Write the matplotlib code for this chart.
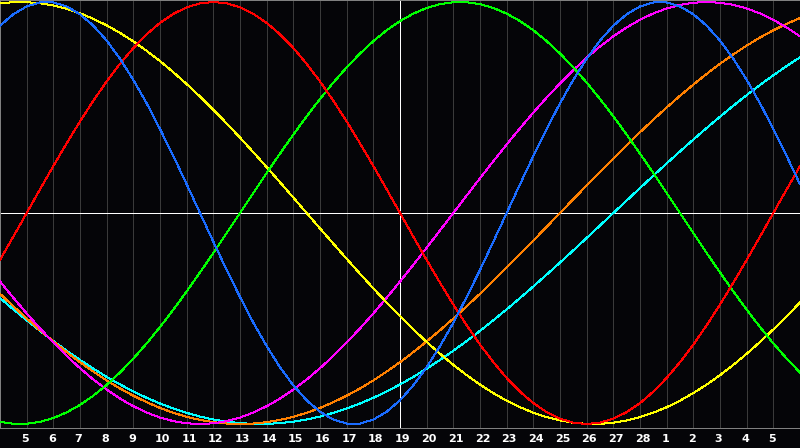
import matplotlib
matplotlib.use("Agg")
import matplotlib.pyplot as plt

day_labels = [str(d) for d in range(5, 29)] + [str(d) for d in range(1, 6)]
today_index = 14  # label "19"

# sample positions: every half day across the 30-day window
days = [i * 0.5 for i in range(61)]

physical = [0.888, 0.942, 0.979, 0.998, 0.998, 0.979, 0.942, 0.888, 0.817, 0.731,
            0.631, 0.520, 0.398, 0.270, 0.136, 0.000, -0.136, -0.270, -0.398, -0.520,
            -0.631, -0.731, -0.817, -0.888, -0.942, -0.979, -0.998, -0.998, -0.979, -0.942,
            -0.888, -0.817, -0.731, -0.631, -0.520, -0.398, -0.270, -0.136, 0.000, 0.136,
            0.270, 0.398, 0.520, 0.631, 0.731, 0.817, 0.888, 0.942, 0.979, 0.998,
            0.998, 0.979, 0.942, 0.888, 0.817, 0.731, 0.631, 0.520, 0.398, 0.270, 0.136]
emotional = [-0.2225, -0.1120, 0.0, 0.1120, 0.2225, 0.3303, 0.4339, 0.5321, 0.6235, 0.7071,
             0.7818, 0.8467, 0.9010, 0.9439, 0.9749, 0.9937, 1.0, 0.9937, 0.9749, 0.9439,
             0.9010, 0.8467, 0.7818, 0.7071, 0.6235, 0.5321, 0.4339, 0.3303, 0.2225, 0.1120,
             0.0, -0.1120, -0.2225, -0.3303, -0.4339, -0.5321, -0.6235, -0.7071, -0.7818, -0.8467,
             -0.9010, -0.9439, -0.9749, -0.9937, -1.0, -0.9937, -0.9749, -0.9439, -0.9010, -0.8467,
             -0.7818, -0.7071, -0.6235, -0.5321, -0.4339, -0.3303, -0.2225, -0.1120, 0.0, 0.1120, 0.2225]
intellectual = [-0.9898, -0.9989, -0.9989, -0.9898, -0.9718, -0.9450, -0.9096, -0.8660, -0.8146, -0.7557,
                -0.6901, -0.6182, -0.5406, -0.4582, -0.3717, -0.2817, -0.1893, -0.0951, 0.0, 0.0951,
                0.1893, 0.2817, 0.3717, 0.4582, 0.5406, 0.6182, 0.6901, 0.7557, 0.8146, 0.8660,
                0.9096, 0.9450, 0.9718, 0.9898, 0.9989, 0.9989, 0.9898, 0.9718, 0.9450, 0.9096,
                0.8660, 0.8146, 0.7557, 0.6901, 0.6182, 0.5406, 0.4582, 0.3717, 0.2817, 0.1893,
                0.0951, 0.0, -0.0951, -0.1893, -0.2817, -0.3717, -0.4582, -0.5406, -0.6182, -0.6901, -0.7557]
intuitive = [-0.3247, -0.4017, -0.4759, -0.5469, -0.6142, -0.6773, -0.7357, -0.7891, -0.8372, -0.8795,
             -0.9158, -0.9458, -0.9694, -0.9864, -0.9966, -1.0, -0.9966, -0.9864, -0.9694, -0.9458,
             -0.9158, -0.8795, -0.8372, -0.7891, -0.7357, -0.6773, -0.6142, -0.5469, -0.4759, -0.4017,
             -0.3247, -0.2455, -0.1646, -0.0826, 0.0, 0.0826, 0.1646, 0.2455, 0.3247, 0.4017,
             0.4759, 0.5469, 0.6142, 0.6773, 0.7357, 0.7891, 0.8372, 0.8795, 0.9158, 0.9458,
             0.9694, 0.9864, 0.9966, 1.0, 0.9966, 0.9864, 0.9694, 0.9458, 0.9158, 0.8795, 0.8372]
aesthetic = [0.9940, 0.9993, 0.9993, 0.9940, 0.9834, 0.9675, 0.9465, 0.9204, 0.8894, 0.8536,
             0.8133, 0.7685, 0.7199, 0.6672, 0.6111, 0.5517, 0.4894, 0.4245, 0.3572, 0.2881,
             0.2174, 0.1456, 0.0730, 0.0, -0.0730, -0.1456, -0.2174, -0.2881, -0.3572, -0.4245,
             -0.4894, -0.5517, -0.6111, -0.6672, -0.7199, -0.7685, -0.8133, -0.8536, -0.8894, -0.9204,
             -0.9465, -0.9675, -0.9834, -0.9940, -0.9993, -0.9993, -0.9940, -0.9834, -0.9675, -0.9465,
             -0.9204, -0.8894, -0.8536, -0.8133, -0.7685, -0.7199, -0.6672, -0.6111, -0.5517, -0.4894, -0.4245]
awareness = [-0.3827, -0.4423, -0.5, -0.5556, -0.6088, -0.6593, -0.7071, -0.7518, -0.7934, -0.8315,
             -0.8660, -0.8969, -0.9239, -0.9469, -0.9659, -0.9808, -0.9914, -0.9979, -1.0, -0.9979,
             -0.9914, -0.9808, -0.9659, -0.9469, -0.9239, -0.8969, -0.8660, -0.8315, -0.7934, -0.7518,
             -0.7071, -0.6593, -0.6088, -0.5556, -0.5, -0.4423, -0.3827, -0.3214, -0.2588, -0.1951,
             -0.1305, -0.0654, 0.0, 0.0654, 0.1305, 0.1951, 0.2588, 0.3214, 0.3827, 0.4423,
             0.5, 0.5556, 0.6088, 0.6593, 0.7071, 0.7518, 0.7934, 0.8315, 0.8660, 0.8969, 0.9239]
spiritual = [-0.4031, -0.4566, -0.5085, -0.5586, -0.6068, -0.6527, -0.6965, -0.7378, -0.7765, -0.8125,
             -0.8456, -0.8758, -0.9028, -0.9267, -0.9473, -0.9646, -0.9786, -0.9890, -0.9960, -0.9996,
             -0.9996, -0.9960, -0.9890, -0.9786, -0.9646, -0.9473, -0.9267, -0.9028, -0.8758, -0.8456,
             -0.8125, -0.7765, -0.7378, -0.6965, -0.6527, -0.6068, -0.5586, -0.5085, -0.4566, -0.4031,
             -0.3482, -0.2920, -0.2349, -0.1769, -0.1183, -0.0592, 0.0, 0.0592, 0.1183, 0.1769,
             0.2349, 0.2920, 0.3482, 0.4031, 0.4566, 0.5085, 0.5586, 0.6068, 0.6527, 0.6965, 0.7378]

series = [
    (spiritual, "#00ffff"),
    (awareness, "#ff8000"),
    (intuitive, "#ff00ff"),
    (aesthetic, "#ffff00"),
    (intellectual, "#00ff00"),
    (emotional, "#ff0000"),
    (physical, "#1a6cff"),
]

bg = "#050508"
fig = plt.figure(figsize=(8, 4.48), dpi=100, facecolor=bg)
ax = fig.add_axes([0, 20 / 448, 1, 428 / 448])
ax.set_facecolor(bg)
ax.set_xlim(0, 30)
ax.set_ylim(-1.019, 1.0095)

px = 0.72  # one pixel in points

for i in range(1, 30):
    ax.axvline(i, color="#3a3a3a", lw=px, antialiased=False, zorder=1)

ax.axhline(0, color="#ffffff", lw=px, antialiased=False, zorder=2)
ax.axvline(today_index + 1, color="#ffffff", lw=px, antialiased=False, zorder=2)

for vals, c in series:
    ax.plot(days, vals, color=c, lw=px, antialiased=False, zorder=3)

ax.set_xticks([])
ax.set_yticks([])
for s in ax.spines.values():
    s.set_color("#808080")
    s.set_linewidth(px)

for i, lab in enumerate(day_labels):
    ax.text(i + 1 - 0.2, -1.07, lab, color="white", fontsize=8, fontweight="bold",
            ha="left", va="center", family="DejaVu Sans", clip_on=False)

fig.savefig("out.png", dpi=100, facecolor=bg)
